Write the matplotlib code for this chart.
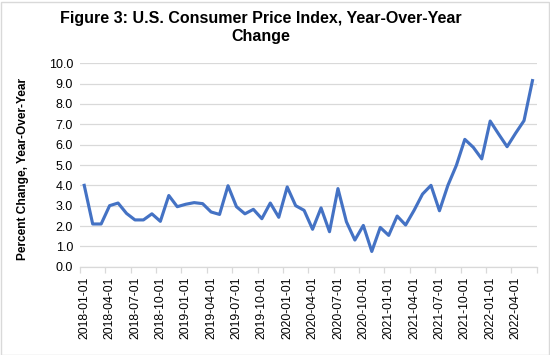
import matplotlib
matplotlib.use("Agg")
import matplotlib.pyplot as plt
import pandas as pd
from matplotlib.patches import Rectangle

plt.rcParams['font.family'] = ['Liberation Sans', 'DejaVu Sans']

months = pd.date_range("2018-01-01", periods=54, freq="MS").strftime("%Y-%m-%d").tolist()
cpi = [4.0, 2.1, 2.1, 3.0, 3.13, 2.62, 2.3, 2.3, 2.6, 2.23,
       3.5, 2.95, 3.07, 3.15, 3.1, 2.69, 2.57, 3.98, 2.95, 2.6,
       2.82, 2.36, 3.13, 2.43, 3.92, 3.0, 2.77, 1.84, 2.89, 1.72,
       3.84, 2.21, 1.31, 2.03, 0.75, 1.93, 1.54, 2.49, 2.05, 2.77,
       3.57, 4.0, 2.75, 4.0, 4.98, 6.26, 5.87, 5.3, 7.16, 6.52,
       5.9, 6.56, 7.18, 9.15]
title = "Figure 3: U.S. Consumer Price Index, Year-Over-Year\nChange"
ylabel = "Percent Change, Year-Over-Year"

fig = plt.figure(figsize=(5.5, 3.55), dpi=100)
ax = fig.add_axes([80/550, 1-266.7/355, 456.7/550, 203.4/355])

x = list(range(len(cpi)))
ax.plot(x, cpi, color="#4472C4", lw=2.25, solid_joinstyle="round")
ax.set_xlim(-0.5, len(cpi) - 0.5)
ax.set_ylim(0, 10)
ax.set_yticks([i for i in range(11)])
ax.set_yticklabels([f"{i:.1f}" for i in range(11)], fontsize=9)
ax.yaxis.grid(True, color="#D9D9D9", lw=0.9)
ax.set_axisbelow(True)
ax.tick_params(axis='y', length=0, pad=5, colors="#000000")

ax.set_xticks(x[::3])
ax.set_xticklabels(months[::3], rotation=90, fontsize=8.7)
ax.set_xticks([i - 0.5 for i in range(0, len(cpi) + 1, 3)], minor=True)
ax.tick_params(axis='x', which='major', length=0, pad=7)
ax.tick_params(axis='x', which='minor', length=4, color="#D9D9D9", width=0.9)

for s in ['top', 'right', 'left']:
    ax.spines[s].set_visible(False)
ax.spines['bottom'].set_color("#D9D9D9")
ax.spines['bottom'].set_linewidth(0.9)

fig.text(261/550, 1-28/355, title, ha='center', va='center', fontsize=11.5,
         fontweight='bold', linespacing=1.25)
fig.text(23/550, 1-169/355, ylabel, ha='center', va='center', rotation=90,
         fontsize=8.6, fontweight='bold')

fig.patches.append(Rectangle((0.5/550, 0.5/355), 548/550, 353/355, transform=fig.transFigure,
                             fill=False, edgecolor="#D9D9D9", lw=1.0))

fig.savefig("out.png", dpi=100)
